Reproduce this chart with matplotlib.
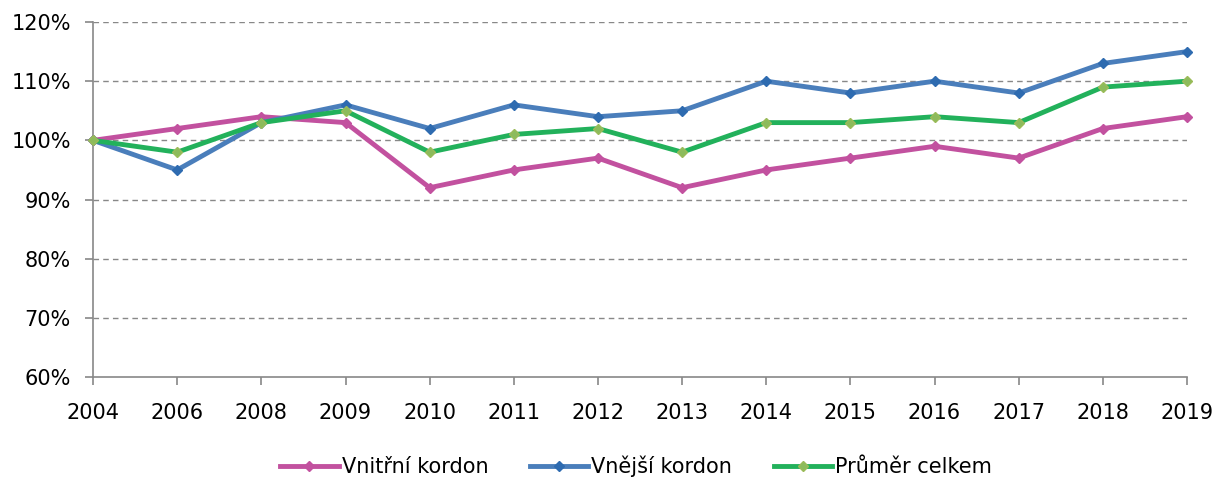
import numpy as np
import matplotlib
matplotlib.use("Agg")
import matplotlib.pyplot as plt
from matplotlib.ticker import PercentFormatter

plt.rcParams['font.family'] = ['DejaVu Sans']

# Daten (Index, 2004 = 100 %)
roky = ['2004', '2006', '2008', '2009', '2010', '2011', '2012', '2013',
        '2014', '2015', '2016', '2017', '2018', '2019']
vnitrni = [100, 102, 104, 103, 92, 95, 97, 92, 95, 97, 99, 97, 102, 104]
vnejsi = [100, 95, 103, 106, 102, 106, 104, 105, 110, 108, 110, 108, 113, 115]
prumer = [100, 98, 103, 105, 98, 101, 102, 98, 103, 103, 104, 103, 109, 110]

fig = plt.figure(figsize=(12.26, 4.82), dpi=100)
ax = fig.add_axes([0.0759, 0.2178, 0.8923, 0.7365])

x = np.arange(len(roky))
ax.plot(x, vnitrni, color='#C2519F', lw=3.5, marker='D', ms=5,
        mfc='#C2519F', mec='#C2519F', clip_on=False, label='Vnitřní kordon', zorder=3)
ax.plot(x, vnejsi, color='#4A7EBB', lw=3.5, marker='D', ms=5,
        mfc='#2E6BB0', mec='#2E6BB0', clip_on=False, label='Vnější kordon', zorder=3)
ax.plot(x, prumer, color='#22B15B', lw=3.5, marker='D', ms=5,
        mfc='#8CBB5C', mec='#9BBB59', clip_on=False, label='Průměr celkem', zorder=4)

ax.set_xlim(0, len(roky) - 1)
ax.set_ylim(60, 120)
ax.set_xticks(x)
ax.set_xticklabels(roky)
ax.set_yticks(np.arange(60, 121, 10))
ax.yaxis.set_major_formatter(PercentFormatter(decimals=0))

for yv in range(70, 121, 10):
    ax.axhline(yv, color='#888888', lw=1, ls=(0, (4, 3)), zorder=1)

for s in ['top', 'right']:
    ax.spines[s].set_visible(False)
for s in ['left', 'bottom']:
    ax.spines[s].set_color('#888888')
    ax.spines[s].set_linewidth(1.2)

ax.tick_params(axis='both', colors='#888888', length=6, width=1.2,
               labelsize=15, labelcolor='black')
ax.tick_params(axis='x', pad=13)
ax.tick_params(axis='y', pad=10)

fig.legend(loc='center', bbox_to_anchor=(0.519, 0.033), ncol=3, frameon=False,
           fontsize=15, handlelength=2.8, handletextpad=0.15, columnspacing=2.0)

fig.savefig('out.png', dpi=100)
